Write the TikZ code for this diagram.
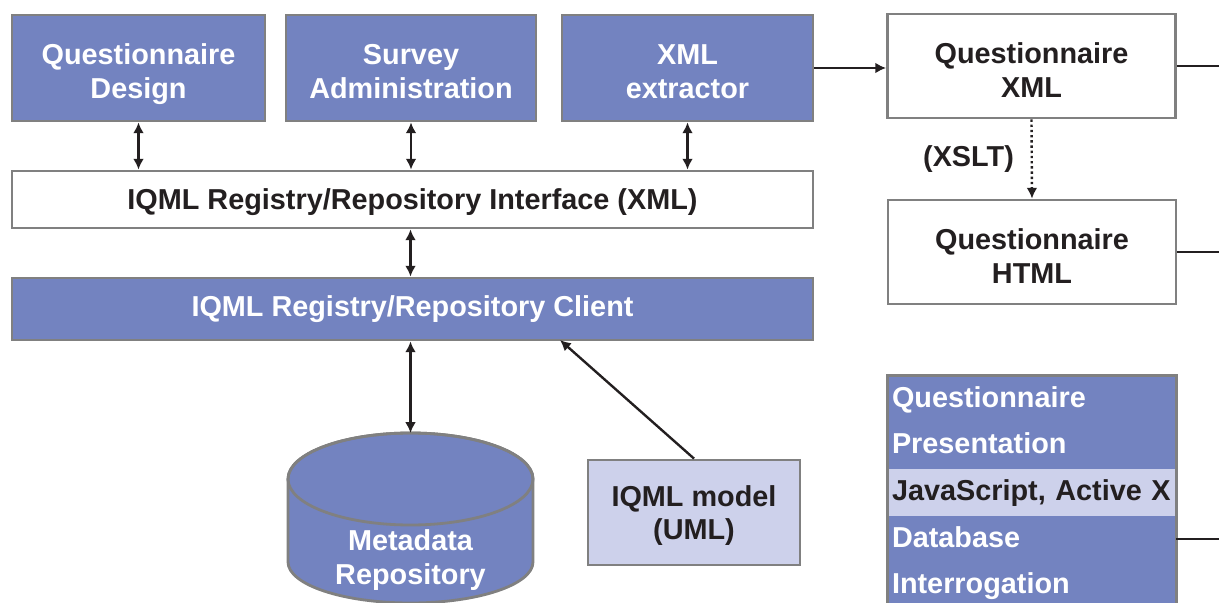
\documentclass[tikz,border=0pt]{standalone}
\usepackage{fontspec}
\setmainfont{Liberation Sans}
\usetikzlibrary{arrows.meta,fit,positioning}
\definecolor{IqmlBlue}{HTML}{7383C0}
\definecolor{IqmlPale}{HTML}{CDD1EB}
\definecolor{Frame}{HTML}{808080}
\definecolor{Ink}{HTML}{231F20}

\begin{document}
\begin{tikzpicture}[
  every node/.style={font=\fontsize{20.5}{23.8}\selectfont\bfseries},
  tool/.style={draw=Frame,line width=2pt,fill=IqmlBlue,text=white,align=center,minimum height=2.65cm,text height=43pt,text depth=0pt},
  doc/.style={draw=Frame,line width=2pt,fill=white,text=Ink,align=center,minimum width=7.2cm,minimum height=2.6cm,text height=44.5pt,text depth=0pt},
  layer/.style={draw=Frame,line width=2pt,minimum width=20.025cm},
  row/.style={fill=IqmlBlue,draw=IqmlBlue,line width=0.5pt,text=white,text width=7.0cm,inner xsep=0.1cm,inner ysep=0pt,minimum height=1.15cm,text height=1.15em,text depth=0pt,align=left},
  link/.style={{Latex[length=2.7mm,width=2.7mm]}-{Latex[length=2.7mm,width=2.7mm]},draw=Ink,line width=1.7pt},
  msg/.style={-{Latex[length=2.7mm,width=2.7mm]},draw=Ink,line width=1.7pt},
  wire/.style={draw=Ink,line width=1.7pt}
]
\useasboundingbox (0,0) rectangle (30.475,-15.075);
\coordinate (rim) at (30.475,0);

% tools
\node[tool,minimum width=6.325cm] (qdesign) at (3.4625,-1.7) {Questionnaire\\Design};
\node[tool,minimum width=6.25cm] (survey) at (10.275,-1.7) {Survey\\Administration};
\node[tool,minimum width=6.275cm] (extractor) at (17.1875,-1.7) {XML\\extractor};
\node[doc] (qxml) at (25.7875,-1.65) {Questionnaire\\XML};
\node[doc] (qhtml) at (25.8,-6.3) {Questionnaire\\HTML};

% registry layers
\node[layer,fill=white,text=Ink,minimum height=1.425cm,text depth=0pt] (iface) at (10.3125,-4.9875) {IQML Registry/Repository Interface (XML)};
\node[layer,fill=IqmlBlue,text=white,minimum height=1.55cm] (client) at (10.3125,-7.725) {IQML Registry/Repository Client};

% repository
\draw[draw=Frame,line width=2pt,fill=IqmlBlue] (7.2,-11.975) -- (7.2,-14.05) arc[start angle=180,end angle=360,x radius=3.0625cm,y radius=1.025cm] -- (13.325,-11.975) arc[start angle=0,end angle=180,x radius=3.0625cm,y radius=1.15cm] -- cycle;
\draw[draw=Frame,line width=2pt] (10.2625,-11.975) ellipse[x radius=3.0625cm,y radius=1.15cm];
\coordinate (dbtop) at (10.2625,-10.825);
\node[text=white,align=center,text depth=0pt] (dbtext) at (10.2625,-13.925) {Metadata\\Repository};

\node[draw=Frame,line width=2pt,fill=IqmlPale,text=Ink,align=center,minimum width=5.3cm,minimum height=2.625cm,text depth=0pt] (model) at (17.35,-12.8125) {IQML model\\(UML)};
\coordinate (umlhit) at (14,-8.5);

% presentation
\node[row] (p1) at (25.8,-9.975) {Questionnaire};
\node[row,below=0pt of p1] (p2) {Presentation};
\node[row,below=0pt of p2,fill=IqmlPale,draw=IqmlPale,text=Ink] (p3) {\mbox{JavaScript, Active X}};
\node[row,below=0pt of p3] (p4) {Database};
\node[row,below=0pt of p4] (p5) {Interrogation};
\node[draw=Frame,line width=2pt,inner sep=0pt,fit=(p1)(p5)] (pres) {};

% connectors
\foreach \n in {qdesign,survey,extractor} \draw[link] (\n.south) -- (\n.south |- iface.north);
\draw[link] (iface.south -| dbtop) -- (client.north -| dbtop);
\draw[link] (client.south -| dbtop) -- (dbtop);
\draw[msg] (model.north) -- (umlhit);
\draw[msg] (extractor.east) -- (extractor.east -| qxml.west);
\draw[msg,dotted] (qxml.south) -- node[left=0.3cm,text=Ink] {(XSLT)} (qhtml.north);
\draw[wire] (qxml.east) -- (qxml.east -| rim);
\draw[wire] (qhtml.east) -- (qhtml.east -| rim);
\draw[wire] (p4.east) -- (p4.east -| rim);
\end{tikzpicture}
\end{document}
